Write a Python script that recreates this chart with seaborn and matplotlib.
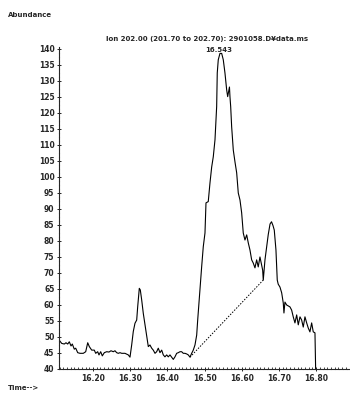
import matplotlib
matplotlib.use("Agg")
import matplotlib.pyplot as plt
import seaborn as sns
import pandas as pd
import numpy as np

# chromatogram trace (time in min, abundance)
time = [
    16.1086, 16.1159, 16.1228, 16.1274, 16.1320, 16.1363, 16.1409, 16.1444, 16.1497, 16.1535,
    16.1589, 16.1651, 16.1739, 16.1804, 16.1858, 16.1901, 16.1965, 16.2035, 16.2073, 16.2126,
    16.2161, 16.2207, 16.2250, 16.2304, 16.2368, 16.2430, 16.2484, 16.2546, 16.2591, 16.2637,
    16.2680, 16.2726, 16.2772, 16.2860, 16.2949, 16.2995, 16.3040, 16.3083, 16.3129, 16.3175,
    16.3202, 16.3245, 16.3272, 16.3309, 16.3352, 16.3398, 16.3444, 16.3487, 16.3532, 16.3578,
    16.3621, 16.3667, 16.3712, 16.3755, 16.3801, 16.3847, 16.3890, 16.3935, 16.3981, 16.4024,
    16.4070, 16.4116, 16.4159, 16.4204, 16.4250, 16.4293, 16.4339, 16.4384, 16.4427, 16.4473,
    16.4519, 16.4562, 16.4608, 16.4653, 16.4696, 16.4742, 16.4788, 16.4815, 16.4849, 16.4884,
    16.4922, 16.4965, 16.5011, 16.5038, 16.5099, 16.5145, 16.5191, 16.5234, 16.5280, 16.5325,
    16.5341, 16.5368, 16.5414, 16.5460, 16.5503, 16.5548, 16.5594, 16.5621, 16.5669, 16.5683,
    16.5702, 16.5728, 16.5772, 16.5820, 16.5863, 16.5906, 16.5952, 16.5997, 16.6040, 16.6086,
    16.6132, 16.6175, 16.6220, 16.6266, 16.6309, 16.6355, 16.6400, 16.6443, 16.6489, 16.6535,
    16.6562, 16.6578, 16.6624, 16.6712, 16.6760, 16.6800, 16.6840, 16.6874, 16.6919, 16.6954,
    16.6980, 16.7027, 16.7073, 16.7116, 16.7134, 16.7161, 16.7207, 16.7296, 16.7341, 16.7384,
    16.7430, 16.7476, 16.7519, 16.7565, 16.7610, 16.7653, 16.7699, 16.7745, 16.7788, 16.7833,
    16.7879, 16.7922, 16.7968, 16.7987,
]
abundance = [
    49.1, 48.0, 47.8, 48.2, 47.8, 48.5, 47.2, 47.8, 46.2, 46.5,
    45.1, 44.9, 44.9, 45.4, 48.2, 47.0, 45.9, 45.9, 44.9, 45.4,
    44.4, 45.4, 44.1, 45.1, 45.4, 45.3, 45.7, 45.4, 45.7, 45.1,
    44.9, 45.1, 44.9, 44.9, 44.4, 43.7, 47.5, 51.7, 54.3, 55.3,
    59.5, 65.2, 64.7, 61.6, 57.4, 53.8, 50.1, 47.0, 47.5, 46.5,
    45.9, 44.9, 45.4, 46.5, 45.1, 45.9, 44.4, 43.8, 44.4, 43.8,
    44.4, 43.7, 43.0, 43.8, 44.9, 45.1, 45.4, 45.4, 44.9, 44.9,
    44.7, 44.4, 43.7, 44.9, 45.9, 47.5, 50.6, 55.3, 60.6, 65.7,
    72.0, 78.2, 82.5, 91.9, 92.3, 98.1, 103.1, 106.3, 111.6, 122.0,
    132.5, 136.6, 138.6, 138.6, 136.6, 132.5, 127.2, 125.1, 128.1, 125.0,
    122.0, 115.7, 108.4, 104.5, 101.3, 95.0, 92.8, 88.8, 82.5, 80.3,
    81.9, 79.4, 77.2, 74.1, 73.1, 71.6, 74.1, 71.9, 75.0, 72.5,
    70.9, 67.8, 74.1, 82.0, 85.3, 86.0, 84.8, 83.4, 77.2, 67.8,
    66.5, 65.6, 63.8, 60.6, 57.5, 60.9, 60.0, 59.4, 58.4, 56.3,
    54.4, 56.9, 53.8, 56.3, 55.3, 53.1, 56.3, 54.4, 52.8, 51.6,
    54.4, 51.6, 51.3, 39.5,
]
# integration baseline (dotted)
base_time = [16.4608, 16.6578]
base_abund = [43.7, 67.8]

y_ticks = list(range(40, 145, 5))
x_ticks = [16.20, 16.30, 16.40, 16.50, 16.60, 16.70, 16.80]
title = "Ion 202.00 (201.70 to 202.70): 2901058.D\u00a5data.ms"
peak_label = "16.543"

sns.set_style("ticks")
plt.rcParams["font.family"] = ["DejaVu Sans"]

fig = plt.figure(figsize=(3.5, 3.99), dpi=100)
ax = fig.add_axes([59 / 350, 1 - 369 / 399, 291 / 350, 322 / 399])

df = pd.DataFrame({"time": time, "abundance": abundance})
sns.lineplot(data=df, x="time", y="abundance", ax=ax, color="black",
             linewidth=0.8, sort=False, estimator=None)
ax.plot(base_time, base_abund, color="black", linewidth=0.7,
        linestyle=(0, (1.5, 1.5)))

ax.set_xlim(16.1086, 16.891)
ax.set_ylim(40, 140.6)
ax.set_yticks(y_ticks)
ax.set_yticklabels([str(v) for v in y_ticks], fontsize=5.5, fontweight="bold")
ax.set_xticks(x_ticks)
ax.set_xticklabels([f"{v:.2f}" for v in x_ticks], fontsize=5.5, fontweight="bold")
ax.set_xticks(np.arange(16.11, 16.89, 0.01), minor=True)
ax.tick_params(axis="both", which="major", length=2.5, width=0.7, pad=2, direction="inout")
ax.tick_params(axis="x", which="minor", length=1.2, width=0.6, direction="in")
ax.set_xlabel("")
ax.set_ylabel("")
for side in ["top", "right"]:
    ax.spines[side].set_visible(False)
for side in ["left", "bottom"]:
    ax.spines[side].set_linewidth(0.8)
    ax.spines[side].set_linestyle((0, (3, 0.6)))

fig.text(207 / 350, 1 - 39 / 399, title, fontsize=5, fontweight="bold",
         ha="center", va="center")
ax.annotate(peak_label, xy=(16.543, 138.6), xytext=(-1, 0.5),
            textcoords="offset points", fontsize=5, fontweight="bold",
            ha="center", va="bottom")
fig.text(8 / 350, 1 - 15 / 399, "Abundance", fontsize=5, fontweight="bold",
         ha="left", va="center")
fig.text(8 / 350, 1 - 388 / 399, "Time-->", fontsize=5, fontweight="bold",
         ha="left", va="center")

fig.savefig("out.png", dpi=100)
